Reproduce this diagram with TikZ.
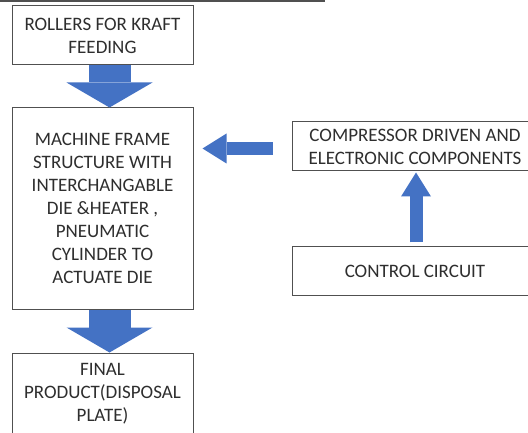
\documentclass[tikz,border=0pt]{standalone}
\usepackage{fontspec}
\setmainfont{Carlito}
\usetikzlibrary{arrows.meta}
\definecolor{arrblue}{HTML}{4472C4}
\definecolor{boxgray}{HTML}{505050}
\definecolor{txtgray}{HTML}{2E2E2E}

\begin{document}
\begin{tikzpicture}[x=1pt, y=-1pt,
    blk/.style={draw=boxgray, line width=1pt, fill=white, text=txtgray, align=center,
        inner sep=0pt, font=\fontsize{19}{23}\selectfont},
    bigarrow/.style={arrblue, line width=42pt, -{Triangle[length=25pt,width=86pt,line width=0pt]}},
    thinarrow/.style={arrblue, line width=13pt, -{Triangle[length=24pt,width=30pt,line width=0pt]}}]
    \useasboundingbox (0,0) rectangle (528,433);
    \clip (0,0) rectangle (528,433);
    \draw[boxgray, line width=1.2pt] (0,1) -- (325,1);
    % left column
    \node[blk, minimum width=181pt, minimum height=59pt] (roll) at (102.5,35.5) {ROLLERS FOR KRAFT\\FEEDING};
    \node[blk, minimum width=181pt, minimum height=201pt] (frame) at (102.5,208.5)
        {MACHINE FRAME\\STRUCTURE WITH\\INTERCHANGABLE\\DIE \&HEATER ,\\PNEUMATIC\\CYLINDER TO\\ACTUATE DIE};
    \node[blk, minimum width=181pt, minimum height=81pt] (final) at (102.5,393.5) {FINAL\\PRODUCT(DISPOSAL\\PLATE)};
    % right column
    \node[blk, minimum width=246pt, minimum height=49pt] (comp) at (415,146.5) {COMPRESSOR DRIVEN AND\\ELECTRONIC COMPONENTS};
    \node[blk, minimum width=246pt, minimum height=48pt] (ctrl) at (415,271) {CONTROL CIRCUIT};
    % arrows
    \draw[bigarrow] ([xshift=7pt]roll.south) -- ([xshift=7pt]frame.north);
    \draw[bigarrow] ([xshift=7pt]frame.south) -- ([xshift=7pt]final.north);
    \draw[thinarrow, shorten <=19pt, shorten >=9pt] ([yshift=-2pt]comp.west) -- ([yshift=-2pt]comp.west -| frame.east);
    \draw[thinarrow, shorten <=4pt, shorten >=1pt] ([xshift=1pt]ctrl.north) -- ([xshift=1pt]comp.south);
\end{tikzpicture}
\end{document}
